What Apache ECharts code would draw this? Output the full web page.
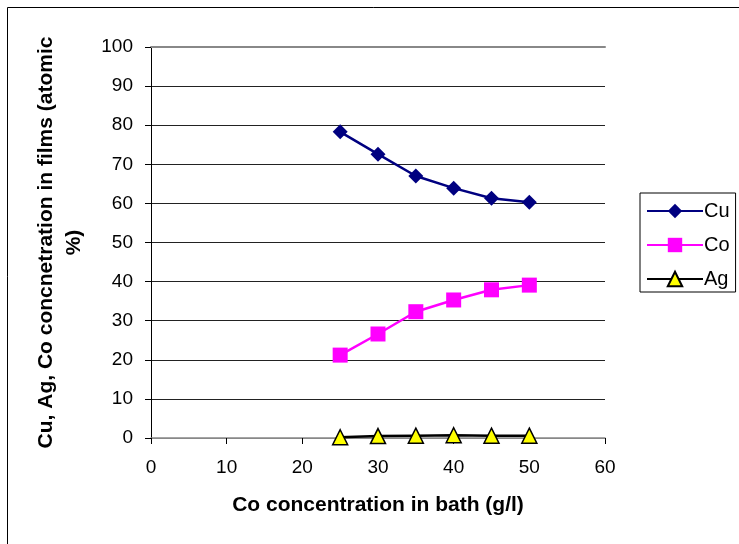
<!DOCTYPE html>
<html>
<head>
<meta charset="utf-8">
<script src="https://cdn.jsdelivr.net/npm/echarts@6/dist/echarts.min.js"></script>
<style>
  html, body { margin: 0; padding: 0; background: #fff; }
  #chart { width: 739px; height: 544px; }
</style>
</head>
<body>
<div id="chart"></div>
<script>
// Bath Co concentration (g/l)
const bathCo = [25, 30, 35, 40, 45, 50];
// Film composition (atomic %)
const cuValues = [78.3, 72.6, 67.0, 63.9, 61.3, 60.3];
const coValues = [21.2, 26.6, 32.3, 35.3, 37.9, 39.1];
const agValues = [0.2, 0.5, 0.6, 0.7, 0.6, 0.6];

const seriesNames = ['Cu', 'Co', 'Ag'];
const xTitle = 'Co concentration in bath (g/l)';
const yTitle = 'Cu, Ag, Co concnetration in films (atomic\n%)';

const font = 'Liberation Sans, Arial, sans-serif';

const pairs = vals => bathCo.map((x, i) => [x, vals[i]]);

// gridline colours, bottom to top: the 0 and 100 lines are grey
const gridColors = ['#888', '#222', '#222', '#222', '#222', '#222', '#222', '#222', '#222', '#222', '#888'];

const chart = echarts.init(document.getElementById('chart'), null, { renderer: 'canvas' });
chart.setOption({
  backgroundColor: '#fff',
  animation: false,
  textStyle: { fontFamily: font },
  graphic: [{
    type: 'rect',
    shape: { x: 7.5, y: 7.5, width: 760, height: 560 },
    style: { fill: 'none', stroke: '#000', lineWidth: 1 },
    silent: true,
    z: -1
  }],
  grid: { left: 151, top: 47, width: 454, height: 391 },
  legend: {
    orient: 'vertical',
    left: 640,
    top: 193,
    padding: [8, 6, 3, 6],
    itemGap: 14,
    itemWidth: 56,
    itemHeight: 18,
    borderColor: '#000',
    borderWidth: 1,
    textStyle: { fontSize: 20, lineHeight: 19, color: '#000', fontFamily: font, padding: [0, 0, 0, -4] },
    data: seriesNames
  },
  xAxis: [{
    type: 'value',
    min: 0, max: 60, interval: 10,
    name: xTitle,
    nameLocation: 'middle',
    nameGap: 57,
    nameTextStyle: { fontSize: 21, fontWeight: 'bold', color: '#000' },
    axisLine: { show: true, lineStyle: { color: '#888', width: 1.5 } },
    axisTick: { show: true, inside: false, length: 6, lineStyle: { color: '#000' } },
    axisLabel: { fontSize: 19, color: '#000', margin: 20 },
    splitLine: { show: false }
  }, {
    // plain top edge of the plot (the 100 line)
    type: 'value',
    position: 'top',
    min: 0, max: 60, interval: 10,
    axisLine: { show: true, lineStyle: { color: '#888', width: 2 } },
    axisTick: { show: false },
    axisLabel: { show: false },
    splitLine: { show: false }
  }],
  yAxis: {
    type: 'value',
    min: 0, max: 100, interval: 10,
    name: yTitle,
    nameLocation: 'middle',
    nameRotate: 90,
    nameGap: 63,
    nameTextStyle: { fontSize: 21, fontWeight: 'bold', color: '#000', lineHeight: 28, align: 'center' },
    axisLine: { show: true, lineStyle: { color: '#000', width: 1 } },
    axisTick: { show: true, inside: false, length: 6, lineStyle: { color: '#000' } },
    axisLabel: { fontSize: 19, color: '#000', margin: 18 },
    splitLine: { show: true, lineStyle: { color: gridColors, width: 1 } }
  },
  series: [
    {
      name: 'Cu', type: 'line', data: pairs(cuValues),
      symbol: 'diamond', symbolSize: 15,
      lineStyle: { color: '#000080', width: 2.5 },
      itemStyle: { color: '#000080' }
    },
    {
      name: 'Co', type: 'line', data: pairs(coValues),
      symbol: 'rect', symbolSize: 15,
      lineStyle: { color: '#ff00ff', width: 2.5 },
      itemStyle: { color: '#ff00ff' }
    },
    {
      name: 'Ag', type: 'line', data: pairs(agValues),
      symbol: 'triangle', symbolSize: 15,
      lineStyle: { color: '#000', width: 2.5 },
      itemStyle: { color: '#ffff00', borderColor: '#000', borderWidth: 1.5 }
    }
  ]
});
</script>
</body>
</html>
